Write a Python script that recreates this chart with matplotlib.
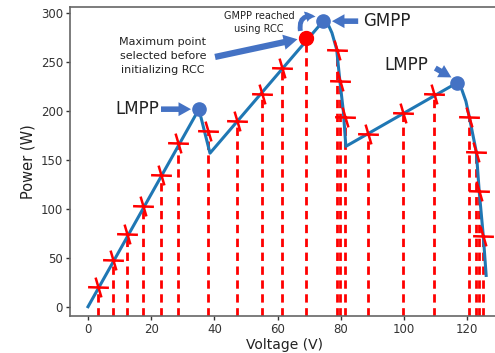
import numpy as np
import matplotlib
matplotlib.use('Agg')
import matplotlib.pyplot as plt
from matplotlib.path import Path

# P-V curve vertices
curve_v = [0, 35.1, 38.6, 74.4, 75.8, 77.2, 78.7, 79.7, 80.8, 81.6,
           116.8, 118.3, 119.6, 120.6, 122.9, 123.8, 125.1, 126.0]
curve_p = [0, 202, 157, 292, 290, 280, 263, 231, 200, 164,
           229, 222, 210, 195, 158, 118, 72, 32]

# sampled points (red crosses)
sample_v = [3.2, 7.9, 12.4, 17.4, 23.2, 28.6, 38.1, 47.3, 55.2, 61.3,
            78.7, 79.7, 81.3, 88.6, 99.7, 109.5, 120.6, 122.9, 123.8, 125.1]
sample_p = [20, 48, 74, 103, 135, 167, 180, 190, 218, 244,
            263, 231, 194, 177, 198, 218, 194, 158, 118, 72]

# maximum point selected before RCC
red_v, red_p = 69.0, 275.0
# peaks
lmpp1 = (35.1, 202)
gmpp = (74.4, 292)
lmpp2 = (116.8, 229)

xticks = [0, 20, 40, 60, 80, 100, 120]
yticks = [0, 50, 100, 150, 200, 250, 300]

BLUE = '#4472C4'

fig = plt.figure(figsize=(4.95, 3.53), dpi=100)
ax = fig.add_axes([0.1414, 0.1048, 0.865, 0.8754])
ax.set_xlim(-5.7, 129.8)
ax.set_ylim(-9.5, 306.5)

# dashed verticals
all_v = sample_v + [red_v]
all_p = sample_p + [red_p]
ax.vlines(all_v, -9, all_p, colors='red', linestyles=(0, (3, 2)), lw=2, zorder=1)

ax.plot(curve_v, curve_p, color='#1f77b4', lw=2.2, zorder=2, solid_joinstyle='round')

# custom cross marker: flat horizontal stroke and a slightly tilted vertical stroke
pts = np.array([[-1, 0.03], [1, -0.03], [-0.28, 0.95], [0.28, -0.95]])
marker = Path(pts, [Path.MOVETO, Path.LINETO, Path.MOVETO, Path.LINETO])
ax.plot(sample_v, sample_p, linestyle='none', marker=marker, ms=15,
        mec='red', mew=1.8, zorder=3)

ax.plot([lmpp1[0], gmpp[0], lmpp2[0]], [lmpp1[1], gmpp[1], lmpp2[1]],
        'o', color=BLUE, ms=9.5, zorder=4)
ax.plot([red_v], [red_p], marker='o', color='red', ms=10, zorder=4)

def block_arrow(tail, tip, hw=1.0, hl=0.9, tw=0.4, rad=0.0):
    ax.annotate('', xy=tip, xytext=tail,
                arrowprops=dict(arrowstyle='simple,head_width=%g,head_length=%g,tail_width=%g' % (hw, hl, tw),
                                fc=BLUE, ec='none', mutation_scale=10,
                                shrinkA=0, shrinkB=0,
                                connectionstyle='arc3,rad=%g' % rad),
                zorder=5)

block_arrow((23.1, 202), (32.6, 202))
ax.text(22.6, 202, 'LMPP', ha='right', va='center', fontsize=12, color='#222')

block_arrow((85.5, 292), (77.2, 292))
ax.text(87.0, 292, 'GMPP', ha='left', va='center', fontsize=12, color='#222')

block_arrow((109.9, 244), (115.0, 234.5))
ax.text(107.6, 247, 'LMPP', ha='right', va='center', fontsize=12, color='#222')

block_arrow((40.2, 255.4), (66.3, 273.5), hw=1.1, hl=1.0, tw=0.45)
ax.text(23.7, 256.3, 'Maximum point\nselected before\ninitializing RCC', ha='center',
        va='center', fontsize=8, color='#222', linespacing=1.45)

block_arrow((67.2, 282), (72.0, 296.5), hw=0.8, hl=0.7, tw=0.35, rad=-0.7)
ax.text(54.1, 290.6, 'GMPP reached\nusing RCC', ha='center', va='center',
        fontsize=7, color='#222', linespacing=1.3)

ax.set_xticks(xticks)
ax.set_yticks(yticks)
ax.tick_params(labelsize=8.5, colors='#333', length=3, width=1, pad=2)
for sp in ['left', 'bottom', 'top', 'right']:
    ax.spines[sp].set_color('#666')
    ax.spines[sp].set_linewidth(1.2)
ax.set_xlabel('Voltage (V)', fontsize=10, color='#222', va='bottom')
ax.xaxis.set_label_coords(0.5, -0.117)
ax.set_ylabel('Power (W)', fontsize=10.5, color='#222', labelpad=4)

fig.savefig('out.png', dpi=100)
